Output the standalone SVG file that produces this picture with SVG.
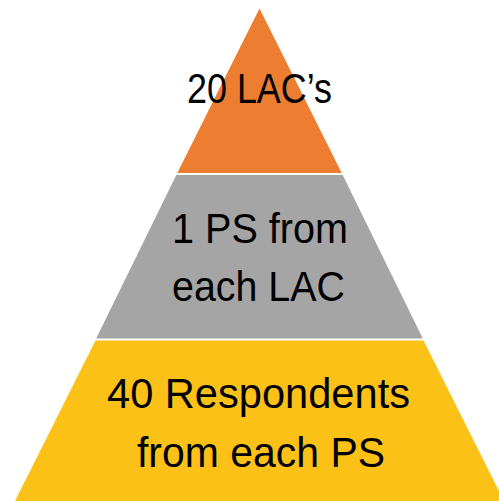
<svg xmlns="http://www.w3.org/2000/svg" width="499" height="501" viewBox="0 0 499 501">
  <style>
    .lbl { font-family: "Liberation Sans", Arial, sans-serif; font-size: 42px; fill: #000; text-anchor: middle; }
  </style>
  <rect width="499" height="501" fill="#fff"/>
  <!-- Top tier -->
  <g id="tier-top">
    <polygon points="259.5,8.5 177.3,173 341.7,173" fill="#ED7D31"/>
    <text class="lbl" x="259.5" y="103" textLength="145" lengthAdjust="spacingAndGlyphs">20 LAC’s</text>
  </g>
  <!-- Middle tier -->
  <g id="tier-middle">
    <polygon points="176.3,175 342.7,175 422.8,338.5 96.2,338.5" fill="#A5A5A5"/>
    <text class="lbl" x="260" y="243" textLength="176" lengthAdjust="spacingAndGlyphs">1 PS from</text>
    <text class="lbl" x="258.5" y="301" textLength="173" lengthAdjust="spacingAndGlyphs">each LAC</text>
  </g>
  <!-- Bottom tier -->
  <g id="tier-bottom">
    <polygon points="95.5,340.5 423.5,340.5 504.5,502 14.5,502" fill="#FBC116"/>
    <text class="lbl" x="258.5" y="408" textLength="303" lengthAdjust="spacingAndGlyphs">40 Respondents</text>
    <text class="lbl" x="261" y="467" textLength="248" lengthAdjust="spacingAndGlyphs">from each PS</text>
  </g>
  <g id="connectors"/>
</svg>
